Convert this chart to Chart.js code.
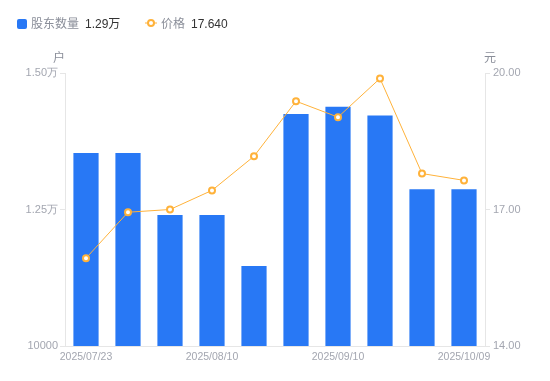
<!DOCTYPE html>
<html><head><meta charset="utf-8">
<script src="https://cdn.jsdelivr.net/npm/chart.js@4/dist/chart.umd.min.js"></script>
<style>
html,body{margin:0;padding:0;background:#fff;}
#wrap{position:relative;width:550px;height:381px;font-family:"Liberation Sans","Noto Sans CJK SC",sans-serif;}
canvas{position:absolute;left:0;top:0;}
.lg{position:absolute;top:15px;font-size:12px;line-height:18px;white-space:nowrap;}
.g{color:#8a8e99;margin-right:6px;}
.d{color:#333;}
.unit{position:absolute;top:48px;font-size:12px;color:#8a8e99;font-family:"Noto Sans CJK SC",sans-serif;}
</style></head>
<body><div id="wrap">
<canvas id="c" width="550" height="381"></canvas>
<div class="lg" style="left:17px"><span style="display:inline-block;width:10px;height:10px;background:#2878f5;border-radius:2px;vertical-align:-1px;margin-right:4px"></span><span class="g">股东数量</span><span class="d">1.29万</span></div>
<div class="lg" style="left:145px"><svg width="12" height="10" style="vertical-align:0px;margin-right:4px"><line x1="0" y1="5" x2="12" y2="5" stroke="#ffb23a" stroke-width="1"/><circle cx="6" cy="5" r="3" fill="#fff" stroke="#ffb23a" stroke-width="2"/></svg><span class="g">价格</span><span class="d">17.640</span></div>
<div class="unit" style="left:53px">户</div>
<div class="unit" style="left:484px">元</div>
</div>
<script>
const categories = ["2025/07/23","2025/07/31","2025/08/01","2025/08/10","2025/08/20","2025/08/31","2025/09/10","2025/09/19","2025/09/30","2025/10/09"];
const holders = [13535,13535,12400,12400,11465,14250,14380,14220,12870,12870];
const prices = [15.93,16.94,17.00,17.42,18.17,19.38,19.03,19.88,17.79,17.64];
const leftTicks = [10000,12500,15000];
const rightTicks = [14,17,20];
const shown = [0,3,6,9];

function fmtLeft(v){ return v>=12500 ? (v/10000).toFixed(2)+"万" : String(v); }

new Chart(document.getElementById('c'),{
  data:{
    labels:categories,
    datasets:[
      {type:'line',data:prices,yAxisID:'y1',borderColor:'#ffb23a',borderWidth:1,pointRadius:3,pointBorderWidth:2,pointBackgroundColor:'#fff',pointBorderColor:'#ffb23a',tension:0,order:0},
      {type:'bar',data:holders,yAxisID:'y',backgroundColor:'#2878f5',barPercentage:0.6,categoryPercentage:1,order:1}
    ]
  },
  options:{
    responsive:false,animation:false,
    layout:{padding:{top:73,left:0,right:0,bottom:0}},
    plugins:{legend:{display:false},tooltip:{enabled:false}},
    scales:{
      x:{
        grid:{display:false,drawTicks:false},
        border:{color:'#e6e6e6'},
        ticks:{autoSkip:false,maxRotation:0,color:'#a3a6b0',font:{size:10.5,family:'Liberation Sans, Arial, sans-serif'},padding:5,
          callback:function(v,i){return shown.includes(i)?categories[i]:'';}},
        afterFit:function(s){s.height=35;}
      },
      y:{
        position:'left',min:10000,max:15000,
        afterBuildTicks:function(s){s.ticks=leftTicks.map(v=>({value:v}));},
        grid:{drawOnChartArea:false,tickLength:5,color:'#e6e6e6'},
        border:{color:'#e6e6e6'},
        ticks:{color:'#a3a6b0',font:{size:11,family:'Liberation Sans, Arial, sans-serif'},padding:2,callback:v=>fmtLeft(v)},
        afterFit:function(s){s.width=65;}
      },
      y1:{
        position:'right',min:14,max:20,
        afterBuildTicks:function(s){s.ticks=rightTicks.map(v=>({value:v}));},
        grid:{drawOnChartArea:false,tickLength:5,color:'#e6e6e6'},
        border:{color:'#e6e6e6'},
        ticks:{color:'#a3a6b0',font:{size:11,family:'Liberation Sans, Arial, sans-serif'},padding:3,callback:v=>Number(v).toFixed(2)},
        afterFit:function(s){s.width=65;}
      }
    }
  }
});
</script>
</body></html>
